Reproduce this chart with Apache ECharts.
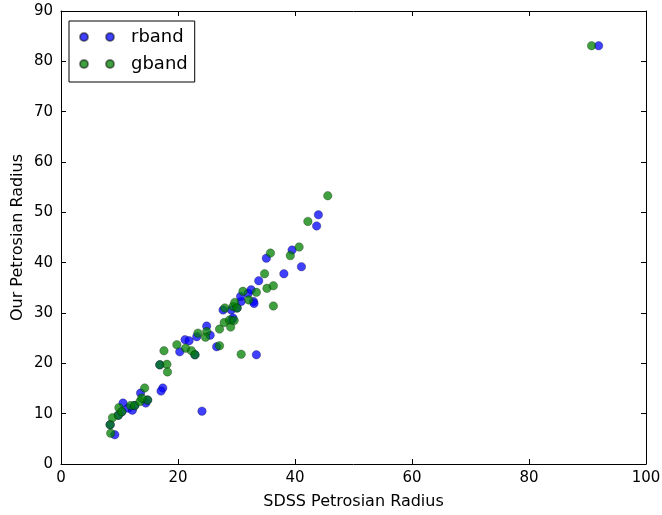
<!DOCTYPE html>
<html>
<head>
<meta charset="utf-8">
<script src="https://cdn.jsdelivr.net/npm/echarts@6/dist/echarts.min.js"></script>
<style>
  html, body { margin: 0; padding: 0; background: #ffffff; }
  #chart { width: 662px; height: 515px; }
</style>
</head>
<body>
<div id="chart"></div>
<script>
// Petrosian radius comparison: SDSS catalogue value vs. our own measurement
var rbandSdss = [9.2, 8.4, 9.8, 10.6, 10.4, 11.5, 12.2, 12.6, 13.6, 14.5, 14.8,
  16.9, 17.4, 17.1, 20.3, 21.2, 21.9, 22.9, 23.2, 24.9, 25.5, 26.6, 27.7, 29.1,
  29.2, 29.4, 30.1, 30.8, 30.7, 32.0, 32.5, 32.9, 33.0, 33.4, 33.8, 38.1, 35.1,
  39.5, 41.1, 44.0, 43.7, 91.9, 24.1];
var rbandOurs = [5.8, 7.8, 9.7, 12.1, 10.4, 11.1, 10.7, 11.6, 14.1, 12.1, 12.7,
  19.7, 15.1, 14.5, 22.3, 24.7, 24.5, 21.7, 25.3, 27.4, 25.6, 23.3, 30.6, 30.6,
  28.6, 29.0, 31.0, 32.3, 33.3, 33.9, 34.6, 32.3, 31.9, 21.7, 36.4, 37.8, 40.9,
  42.5, 39.2, 49.5, 47.3, 83.1, 10.5];

var gbandSdss = [8.5, 8.4, 8.8, 9.9, 9.8, 10.4, 11.9, 12.6, 13.5, 14.3, 14.8,
  13.8, 17.6, 16.9, 18.1, 18.2, 19.8, 21.3, 22.3, 22.9, 23.4, 24.9, 24.7, 27.1,
  27.1, 27.9, 28.0, 28.8, 29.4, 29.7, 30.1, 29.0, 29.6, 30.8, 31.1, 32.1, 33.4,
  34.8, 35.2, 36.3, 36.3, 35.8, 39.2, 40.7, 42.2, 45.6, 90.7];
var gbandOurs = [6.1, 7.8, 9.2, 11.2, 9.7, 10.4, 11.6, 11.6, 12.4, 15.1, 12.7,
  13.1, 22.5, 19.7, 19.8, 18.3, 23.7, 23.0, 22.5, 21.7, 26.0, 26.3, 25.2, 26.8,
  23.5, 28.1, 31.0, 28.6, 31.3, 32.1, 31.0, 27.2, 28.5, 21.8, 34.3, 32.6, 34.1,
  37.8, 34.9, 35.4, 31.4, 41.9, 41.4, 43.1, 48.2, 53.3, 83.1];

var seriesNames = ['rband', 'gband'];
var xTitle = 'SDSS Petrosian Radius';
var yTitle = 'Our Petrosian Radius';

function pairs(xs, ys) {
  return xs.map(function (x, i) { return [x, ys[i]]; });
}

var font = 'DejaVu Sans';
// legend swatch: two markers side by side
var twoDots = 'path://M0,4a4,4 0 1,0 8,0a4,4 0 1,0 -8,0M26,4a4,4 0 1,0 8,0a4,4 0 1,0 -8,0';

var frameAxis = {
  axisLine: { show: true, onZero: false, lineStyle: { color: '#000', width: 1 } },
  axisTick: { show: true, inside: true, length: 5, lineStyle: { color: '#000' } },
  splitLine: { show: false }
};

function axis(extra) {
  return Object.assign({}, JSON.parse(JSON.stringify(frameAxis)), extra);
}

var chart = echarts.init(document.getElementById('chart'), null, { renderer: 'canvas' });
chart.setOption({
  animation: false,
  backgroundColor: '#ffffff',
  grid: { left: 61, right: 16, top: 11, bottom: 51, containLabel: false, outerBoundsMode: 'none' },
  legend: {
    left: 69, top: 21,
    orient: 'vertical',
    padding: [7, 7, 9, 10],
    itemGap: 9,
    itemWidth: 34, itemHeight: 8,
    icon: twoDots,
    borderColor: '#000', borderWidth: 1, borderRadius: 0,
    backgroundColor: '#fff',
    textStyle: { fontFamily: font, fontSize: 18, color: '#000', padding: [0, 0, 0, 12] },
    data: seriesNames
  },
  xAxis: [
    axis({
      type: 'value', min: 0, max: 100, interval: 20, position: 'bottom',
      name: xTitle, nameLocation: 'middle', nameGap: 30, nameMoveOverlap: false,
      nameTextStyle: { fontFamily: font, fontSize: 16, color: '#000' },
      axisLabel: { fontFamily: font, fontSize: 15, color: '#000', margin: 7 }
    }),
    axis({
      type: 'value', min: 0, max: 100, interval: 20, position: 'top',
      axisLabel: { show: false }
    })
  ],
  yAxis: [
    axis({
      type: 'value', min: 0, max: 90, interval: 10, position: 'left',
      name: yTitle, nameLocation: 'middle', nameGap: 35, nameMoveOverlap: false,
      nameTextStyle: { fontFamily: font, fontSize: 16, color: '#000' },
      axisLabel: { fontFamily: font, fontSize: 15, color: '#000', margin: 8 }
    }),
    axis({
      type: 'value', min: 0, max: 90, interval: 10, position: 'right',
      axisLabel: { show: false }
    })
  ],
  series: [
    {
      name: seriesNames[0], type: 'scatter', symbol: 'circle', symbolSize: 8.5,
      itemStyle: { color: 'rgba(0,0,255,0.75)', borderColor: 'rgba(0,0,0,0.45)', borderWidth: 0.6, opacity: 1 },
      data: pairs(rbandSdss, rbandOurs)
    },
    {
      name: seriesNames[1], type: 'scatter', symbol: 'circle', symbolSize: 8.5,
      itemStyle: { color: 'rgba(0,128,0,0.75)', borderColor: 'rgba(0,0,0,0.45)', borderWidth: 0.6, opacity: 1 },
      data: pairs(gbandSdss, gbandOurs)
    }
  ]
});
</script>
</body>
</html>
